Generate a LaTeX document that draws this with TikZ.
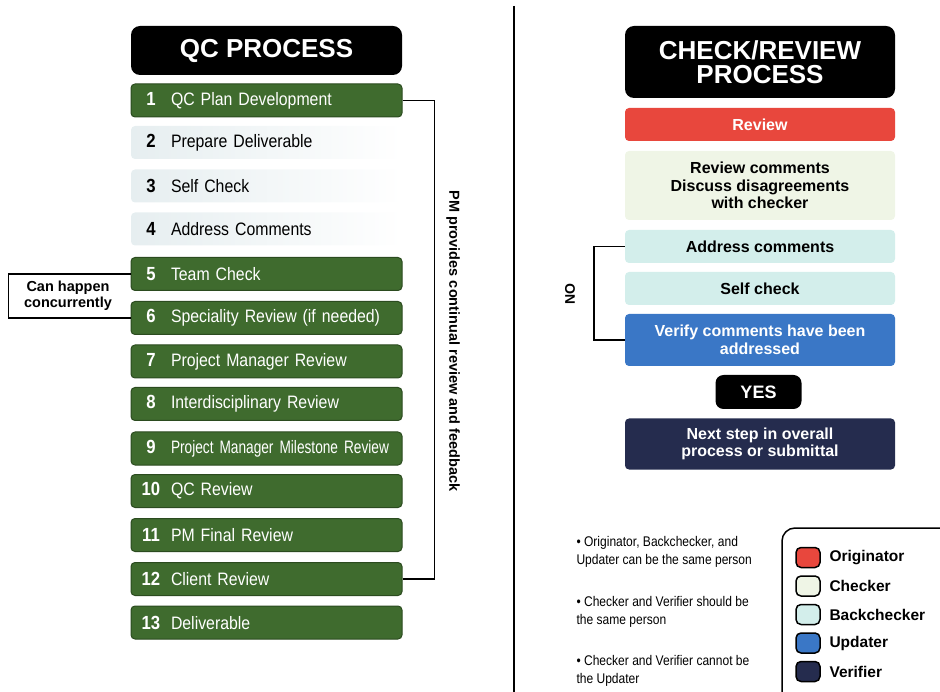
\documentclass[tikz,border=0pt]{standalone}
\usepackage{fontspec}
\setmainfont{Liberation Sans}
\newfontfamily\narrowfont[FakeStretch=0.88]{Liberation Sans}
\newfontfamily\narrowerfont[FakeStretch=0.76]{Liberation Sans}
\newfontfamily\notefont[FakeStretch=0.86]{Liberation Sans}

\definecolor{qcgreen}{HTML}{3F6B2E}
\definecolor{qcgreenline}{HTML}{2B4B1F}
\definecolor{qcpale}{HTML}{E6EEF0}
\definecolor{revred}{HTML}{E8473D}
\definecolor{chkpale}{HTML}{EFF5E6}
\definecolor{bckcyan}{HTML}{D3EEEB}
\definecolor{updblue}{HTML}{3A77C6}
\definecolor{vernavy}{HTML}{252C4E}

\newcommand{\stepnum}[1]{\makebox[24pt][c]{\fontsize{19}{19}\selectfont\bfseries #1}\hspace{8pt}}

\begin{document}
\begin{tikzpicture}[x=1pt,y=-1pt,
        qctitle/.style={fill=black, rounded corners=9pt, text=white, font=\fontsize{26}{24}\selectfont\bfseries,
                minimum width=271pt, align=center},
        qcstep/.style={rectangle, rounded corners=4pt, minimum height=33pt, inner xsep=8pt, inner ysep=0pt,
                text width=255pt, align=left, font=\narrowfont\fontsize{18}{18}\selectfont},
        qcgreenstep/.style={qcstep, fill=qcgreen, draw=qcgreenline, line width=1pt, text=white},
        qclightstep/.style={qcstep, left color=qcpale, right color=white, text=black},
        crbox/.style={rectangle, rounded corners=4pt, minimum width=270pt, inner sep=0pt, align=center,
                font=\fontsize{16}{17.5}\selectfont\bfseries},
        swatch/.style={draw=black, line width=1.5pt, rounded corners=5pt, minimum width=24pt, minimum height=20pt, inner sep=0pt},
        swatchlabel/.style={anchor=west, font=\fontsize{15.5}{15.5}\selectfont\bfseries},
        bullet/.style={anchor=west, align=left, font=\notefont\fontsize{14}{18}\selectfont},
        bracket/.style={draw=black, line width=1.6pt}]
        \useasboundingbox (0,0) rectangle (940,692);

        % left column
        \node[qctitle, minimum height=49pt] (QC) at (266.5,50.5) {QC PROCESS};
        \node[qcgreenstep] (S1) at (266.5,100.5) {\stepnum{1}QC Plan Development};
        \node[qclightstep] (S2) at (266.5,142.5) {\stepnum{2}Prepare Deliverable};
        \node[qclightstep] (S3) at (266.5,186) {\stepnum{3}Self Check};
        \node[qclightstep] (S4) at (266.5,229) {\stepnum{4}Address Comments};
        \node[qcgreenstep] (S5) at (266.5,274) {\stepnum{5}Team Check};
        \node[qcgreenstep] (S6) at (266.5,318) {\stepnum{6}Speciality Review (if needed)};
        \node[qcgreenstep] (S7) at (266.5,361.5) {\stepnum{7}Project Manager Review};
        \node[qcgreenstep] (S8) at (266.5,404) {\stepnum{8}Interdisciplinary Review};
        \node[qcgreenstep] (S9) at (266.5,448.5) {\mbox{\stepnum{9}\narrowerfont Project Manager Milestone Review}};
        \node[qcgreenstep] (S10) at (266.5,491) {\stepnum{10}QC Review};
        \node[qcgreenstep] (S11) at (266.5,535) {\stepnum{11}PM Final Review};
        \node[qcgreenstep] (S12) at (266.5,579) {\stepnum{12}Client Review};
        \node[qcgreenstep] (S13) at (266.5,622.5) {\stepnum{13}Deliverable};

        \draw[bracket] (S1.east) -- ++(32,0) |- (S12.east);
        \node[rotate=-90, font=\fontsize{14.5}{14.5}\selectfont\bfseries] (PM) at (453,341) {PM provides continual review and feedback};

        \draw[bracket] (S5.west) -- ++(-122,0) |- (S6.west);
        \node[align=center, font=\fontsize{14.5}{16.5}\selectfont\bfseries] (CH) at (68,296) {Can happen\\concurrently};

        % separator
        \coordinate (TopSep) at (514,6);
        \coordinate (BotSep) at (514,692);
        \draw[line width=1.2pt] (TopSep) -- (BotSep);

        % right column
        \node[qctitle, minimum width=270pt, minimum height=72pt] (CR) at (760,62) {CHECK/REVIEW\\PROCESS};
        \node[crbox, fill=revred, text=white, minimum height=33pt] (RV) at (760,124.5) {Review};
        \node[crbox, fill=chkpale, minimum height=69pt] (RC) at (760,185.5) {Review comments\\Discuss disagreements\\with checker};
        \node[crbox, fill=bckcyan, minimum height=33pt] (AC) at (760,246.5) {Address comments};
        \node[crbox, fill=bckcyan, minimum height=33pt] (SC) at (760,288.5) {Self check};
        \node[crbox, fill=updblue, text=white, minimum height=52pt] (VF) at (760,340) {Verify comments have been\\addressed};
        \node[crbox, fill=black, text=white, rounded corners=8pt, minimum width=86pt, minimum height=34pt,
                font=\fontsize{18}{18}\selectfont\bfseries] (YES) at (758.5,392) {YES};
        \node[crbox, fill=vernavy, text=white, minimum height=51pt] (NX) at (760,444) {Next step in overall\\process or submittal};

        \draw[bracket] (AC.west) -- ++(-31,0) |- (VF.west);
        \node[rotate=90, font=\fontsize{14}{14}\selectfont\bfseries] (NO) at (570,294) {NO};

        % notes
        \node[bullet] (N1) at (573,552) {\textbullet\ Originator, Backchecker, and\\Updater can be the same person};
        \node[bullet] (N2) at (573,612) {\textbullet\ Checker and Verifier should be\\the same person};
        \node[bullet] (N3) at (573,671) {\textbullet\ Checker and Verifier cannot be\\the Updater};

        % legend
        \draw[line width=1.5pt, rounded corners=13pt] (782,528) rectangle (952,705);
        \node[swatch, fill=revred] (LO) at (808,557.5) {};
        \node[swatch, fill=chkpale] (LC) at (808,586) {};
        \node[swatch, fill=bckcyan] (LB) at (808,614.5) {};
        \node[swatch, fill=updblue] (LU) at (808,643) {};
        \node[swatch, fill=vernavy] (LV) at (808,671.5) {};
        \node[swatchlabel] at (826,557.5) {Originator};
        \node[swatchlabel] at (826,586) {Checker};
        \node[swatchlabel] at (826,614.5) {Backchecker};
        \node[swatchlabel] at (826,643) {Updater};
        \node[swatchlabel] at (826,671.5) {Verifier};
\end{tikzpicture}
\end{document}
